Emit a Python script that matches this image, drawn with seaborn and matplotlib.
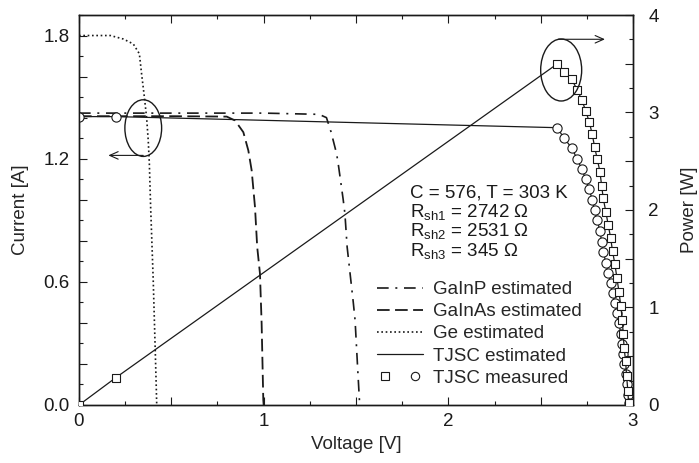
import matplotlib
matplotlib.use('Agg')
import matplotlib.pyplot as plt
from matplotlib.patches import Ellipse
from matplotlib.lines import Line2D
from matplotlib.legend_handler import HandlerTuple
from matplotlib.ticker import MultipleLocator, FixedLocator
import seaborn as sns

# ---- data ----
# GaInP sub-cell (estimated)
gainp_v = [0.0, 1.0, 1.30, 1.34, 1.365, 1.395, 1.405, 1.43, 1.44, 1.452, 1.485, 1.495, 1.51, 1.52]
gainp_i = [1.422, 1.422, 1.416, 1.40, 1.33, 1.224, 1.167, 1.005, 0.932, 0.77, 0.502, 0.413, 0.162, 0.0]

# GaInAs sub-cell (estimated)
gainas_v = [0.0, 0.5, 0.80, 0.845, 0.89, 0.917, 0.935, 0.953, 0.965, 0.98, 0.989, 0.998, 1.0]
gainas_i = [1.407, 1.407, 1.405, 1.386, 1.329, 1.24, 1.143, 0.965, 0.77, 0.64, 0.397, 0.024, 0.0]

# Ge sub-cell (estimated)
ge_v = [0.0, 0.17, 0.24, 0.294, 0.327, 0.339, 0.352, 0.366, 0.375, 0.381, 0.388, 0.402, 0.415, 0.421]
ge_i = [1.8, 1.8, 1.783, 1.759, 1.711, 1.613, 1.516, 1.402, 1.289, 1.176, 0.964, 0.608, 0.2, 0.0]

# TJSC measured (current on left axis, power on right axis)
tjsc_v = [0.0, 0.2, 2.590, 2.626, 2.668, 2.698, 2.722, 2.744, 2.763, 2.779, 2.792, 2.806,
          2.821, 2.830, 2.839, 2.853, 2.866, 2.879, 2.889, 2.902, 2.913, 2.924,
          2.934, 2.942, 2.947, 2.952, 2.960, 2.965, 2.972, 2.976]
tjsc_i = [1.405, 1.405, 1.351, 1.300, 1.253, 1.197, 1.151, 1.099, 1.051, 1.000, 0.948, 0.900,
          0.848, 0.795, 0.746, 0.694, 0.643, 0.595, 0.546, 0.498, 0.446, 0.397,
          0.345, 0.297, 0.247, 0.198, 0.151, 0.102, 0.049, 0.008]
tjsc_p = [0.0, 0.281, 3.499, 3.414, 3.343, 3.230, 3.133, 3.016, 2.904, 2.779, 2.647, 2.525,
          2.392, 2.250, 2.118, 1.980, 1.843, 1.713, 1.577, 1.445, 1.299, 1.161,
          1.012, 0.874, 0.728, 0.584, 0.447, 0.302, 0.146, 0.024]

legend_labels = ['GaInP estimated', 'GaInAs estimated', 'Ge estimated',
                 'TJSC estimated', 'TJSC measured']
info_lines = ['C = 576, T = 303 K',
              r'R$_{\rm sh1}$ = 2742 Ω',
              r'R$_{\rm sh2}$ = 2531 Ω',
              r'R$_{\rm sh3}$ = 345 Ω']

x_ticks = [0, 0.5, 1, 1.5, 2, 2.5, 3]
x_tick_labels = ['0', '', '1', '', '2', '', '3']
yl_ticks = [0, 0.2, 0.4, 0.6, 0.8, 1.0, 1.2, 1.4, 1.6, 1.8]
yl_tick_labels = ['0.0', '', '', '0.6', '', '', '1.2', '', '', '1.8']
yr_ticks = [0, 0.5, 1, 1.5, 2, 2.5, 3, 3.5, 4]
yr_tick_labels = ['0', '', '1', '', '2', '', '3', '', '4']

# ---- style ----
sns.set_theme(style='ticks')
plt.rcParams['font.family'] = ['Liberation Sans', 'DejaVu Sans']
plt.rcParams['mathtext.fontset'] = 'custom'
plt.rcParams['mathtext.rm'] = 'Liberation Sans'
plt.rcParams['mathtext.it'] = 'Liberation Sans:italic'
plt.rcParams['font.size'] = 13.5
plt.rcParams['axes.linewidth'] = 1.0

fs = 13.5
dashdot = (0, (7, 4, 1.2, 4))
longdash = (0, (7, 3))
dotted = (0, (1, 1.6))

fig = plt.figure(figsize=(6.99, 4.63), dpi=100)
ax = fig.add_axes([0.113, 0.1253, 0.7926, 0.8423])
ax2 = ax.twinx()

# current curves (left axis)
sns.lineplot(x=gainp_v, y=gainp_i, ax=ax, color='k', lw=1.2, linestyle=dashdot,
             estimator=None, sort=False)
sns.lineplot(x=gainas_v, y=gainas_i, ax=ax, color='k', lw=1.3, linestyle=longdash,
             estimator=None, sort=False)
sns.lineplot(x=ge_v, y=ge_i, ax=ax, color='k', lw=1.2, linestyle=dotted,
             estimator=None, sort=False)
sns.lineplot(x=tjsc_v, y=tjsc_i, ax=ax, color='k', lw=0.9,
             estimator=None, sort=False)
sns.scatterplot(x=tjsc_v, y=tjsc_i, ax=ax, marker='o', s=44, facecolor='white',
                edgecolor='k', linewidth=0.8, zorder=4)

# power curve (right axis)
sns.lineplot(x=tjsc_v, y=tjsc_p, ax=ax2, color='k', lw=0.9,
             estimator=None, sort=False)
sns.scatterplot(x=tjsc_v, y=tjsc_p, ax=ax2, marker='s', s=36, facecolor='white',
                edgecolor='k', linewidth=0.8, zorder=4)

# axes limits and ticks
ax.set_xlim(0, 3)
ax.set_ylim(0, 1.9)
ax2.set_ylim(0, 4)

ax.xaxis.set_major_locator(FixedLocator(x_ticks))
ax.set_xticklabels(x_tick_labels)
ax.xaxis.set_minor_locator(MultipleLocator(0.25))
ax.yaxis.set_major_locator(FixedLocator(yl_ticks))
ax.set_yticklabels(yl_tick_labels)
ax.yaxis.set_minor_locator(MultipleLocator(0.1))
ax2.yaxis.set_major_locator(FixedLocator(yr_ticks))
ax2.set_yticklabels(yr_tick_labels)
ax2.yaxis.set_minor_locator(MultipleLocator(0.25))

ax.tick_params(which='both', direction='in', top=True, right=False, width=0.8,
               labelsize=fs, colors='k')
ax.tick_params(which='major', length=5.5)
ax.tick_params(which='minor', length=3)
ax.tick_params(axis='x', pad=6)
ax.tick_params(axis='y', pad=7)
ax2.tick_params(which='both', direction='in', width=0.8, labelsize=fs, colors='k', pad=11)
ax2.tick_params(which='major', length=5.5)
ax2.tick_params(which='minor', length=3)

ax.set_xlabel('Voltage [V]', fontsize=fs, labelpad=4)
ax.set_ylabel('Current [A]', fontsize=fs, labelpad=10)
ax2.set_ylabel('Power [W]', fontsize=fs, labelpad=16)

for a in (ax, ax2):
    for sp in a.spines.values():
        sp.set_visible(True)
        sp.set_color('k')
        sp.set_linewidth(1.0)

# ellipses with arrows marking which axis each group belongs to
ax.add_patch(Ellipse((0.348, 1.349), 0.199, 0.276, fill=False, ec='k', lw=1.0, zorder=5))
ax.annotate('', xy=(0.159, 1.216), xytext=(0.348, 1.216),
            arrowprops=dict(arrowstyle='->,head_length=0.45,head_width=0.2',
                            lw=0.8, color='k', shrinkA=0, shrinkB=0))
ax2.add_patch(Ellipse((2.611, 3.436), 0.222, 0.636, fill=False, ec='k', lw=1.0, zorder=5))
ax2.annotate('', xy=(2.848, 3.751), xytext=(2.595, 3.751),
             arrowprops=dict(arrowstyle='->,head_length=0.45,head_width=0.2',
                             lw=0.8, color='k', shrinkA=0, shrinkB=0))

# parameter text
for k, line in enumerate(info_lines):
    ax.text(0.5975, 0.5326 - 0.05 * k, line, transform=ax.transAxes,
            ha='left', va='baseline', fontsize=fs, color='k')

# legend
handles = [
    Line2D([], [], color='k', lw=1.2, linestyle=dashdot),
    Line2D([], [], color='k', lw=1.3, linestyle=longdash),
    Line2D([], [], color='k', lw=1.2, linestyle=dotted),
    Line2D([], [], color='k', lw=0.9),
    (Line2D([], [], marker='s', ls='none', mfc='white', mec='k', ms=5.5, mew=0.8),
     Line2D([], [], marker='o', ls='none', mfc='white', mec='k', ms=6, mew=0.8)),
]
ax.legend(handles, legend_labels, handler_map={tuple: HandlerTuple(ndivide=None, pad=0.8)},
          loc='upper left', bbox_to_anchor=(0.538, 0.318), frameon=False,
          borderpad=0, borderaxespad=0, handlelength=2.45, handletextpad=0.55,
          labelspacing=0.27, fontsize=fs)

fig.savefig('out.png', dpi=100)
